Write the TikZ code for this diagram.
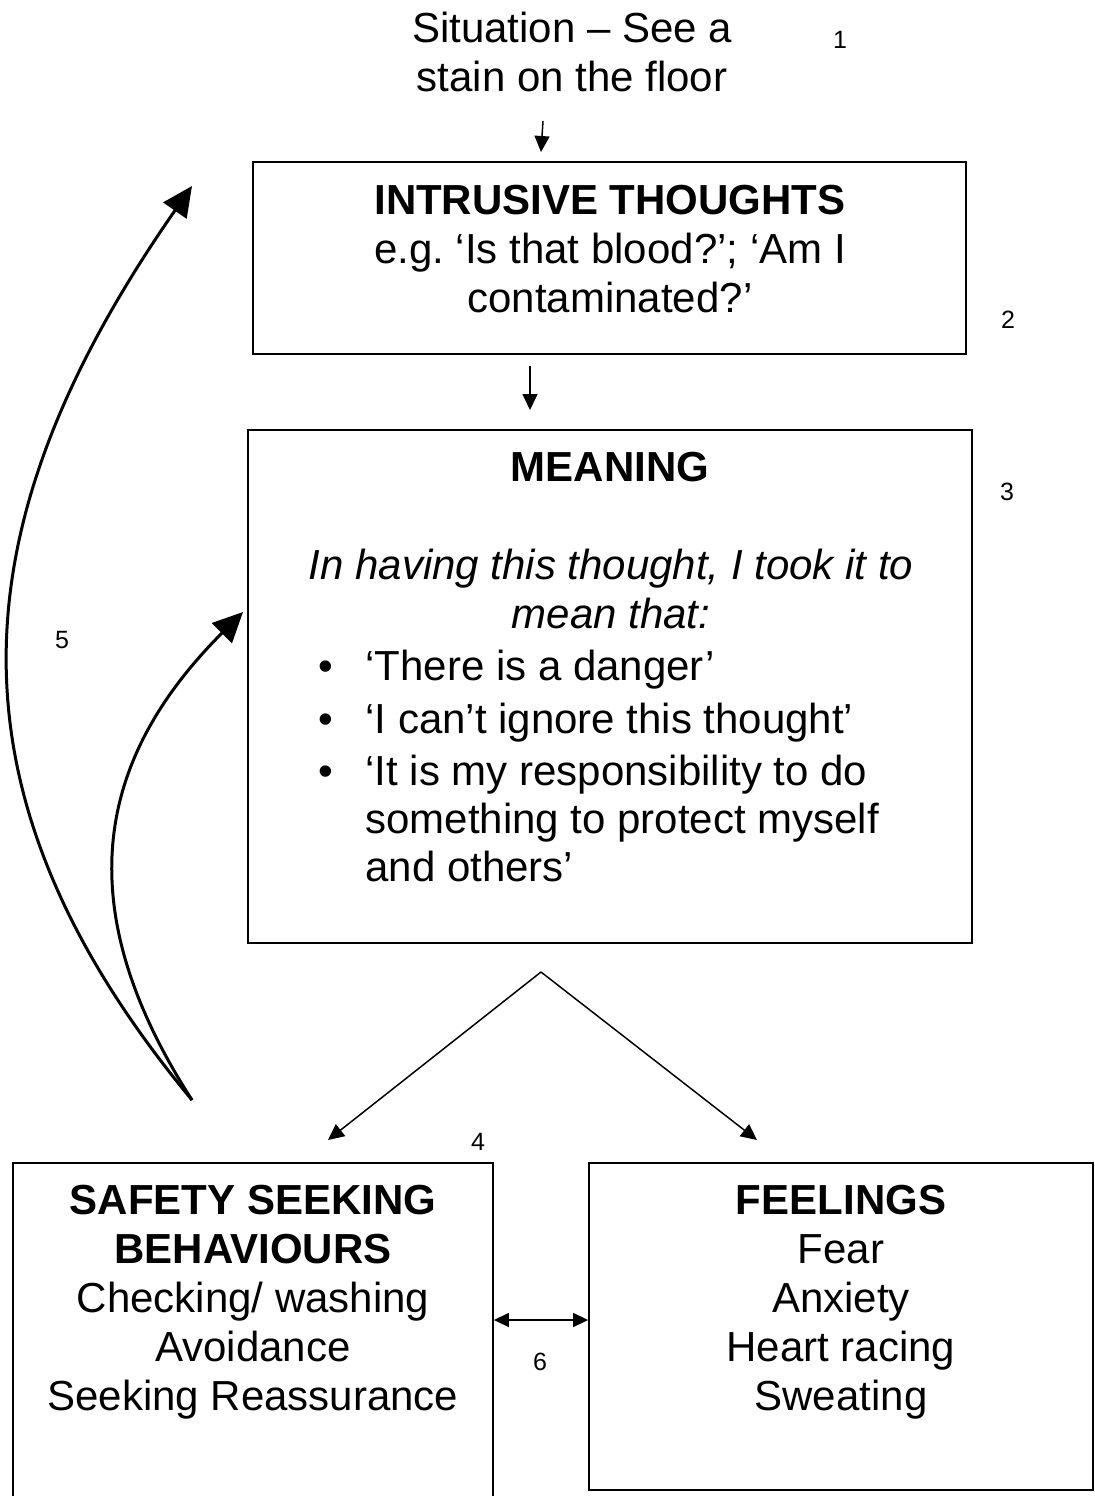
\documentclass[tikz,border=0pt]{standalone}
\usepackage{fontspec}
\setmainfont{Liberation Sans}
\usetikzlibrary{arrows.meta}

\begin{document}
\begin{tikzpicture}[x=0.5pt,y=-0.5pt,
  box/.style={draw,line width=0.9pt,inner sep=0pt},
  txt/.style={font=\fontsize{21}{24.5}\selectfont,align=center,inner sep=0pt},
  item/.style={font=\fontsize{21}{24.5}\selectfont,inner sep=0pt,anchor=base west},
  num/.style={font=\fontsize{12.5}{14}\selectfont,inner sep=0pt},
  arr/.style={-{Triangle[length=8pt,width=7.5pt]},line width=0.75pt},
  dbl/.style={{Triangle[length=7.5pt,width=7pt]}-{Triangle[length=7.5pt,width=7pt]},line width=0.75pt},
  loopar/.style={-{Triangle[length=15pt,width=14pt]},line width=1.5pt}]
\useasboundingbox (0,0) rectangle (1094,1496);
\clip (0,0) rectangle (1094,1496);

\node[txt] (sit) at (572,51.5) {Situation – See a\\stain on the floor};
\node[box,minimum width=356.5pt,minimum height=96pt] (intr) at (609.5,258) {};
\node[txt] (intrT) at (610,249) {\textbf{INTRUSIVE THOUGHTS}\\e.g.\ ‘Is that blood?’; ‘Am I\\contaminated?’};
\node[box,minimum width=362pt,minimum height=256.5pt] (mean) at (610,686.5) {};
\node[txt] (meanH) at (610,467) {\textbf{MEANING}};
\node[txt] (meanT) at (611,588.5) {\itshape In having this thought, I took it to\\\itshape mean that:};
\node[item] (b1) at (365,680) {\llap{\textbullet\hspace{16pt}}‘There is a danger’};
\node[item] (b2) at (365,733) {\llap{\textbullet\hspace{16pt}}‘I can’t ignore this thought’};
\node[item] (b3) at (365,785) {\llap{\textbullet\hspace{16pt}}‘It is my responsibility to do};
\node[item] (b3b) at (365,833) {something to protect myself};
\node[item] (b3c) at (365,881) {and others’};
\node[box,minimum width=240pt,minimum height=178.5pt] (safe) at (253,1341.5) {};
\node[txt] (safeT) at (253,1302.5) {\textbf{SAFETY SEEKING}\\\textbf{BEHAVIOURS}\\Checking/ washing\\Avoidance\\Seeking Reassurance};
\node[box,minimum width=252pt,minimum height=163.5pt] (feel) at (841,1326.5) {};
\node[txt] (feelT) at (841,1302.5) {\textbf{FEELINGS}\\Fear\\Anxiety\\Heart racing\\Sweating};

\node[num] (n1) at (840,40) {1};
\node[num] (n2) at (1008,320) {2};
\node[num] (n3) at (1007,492) {3};
\node[num] (n4) at (478,1142) {4};
\node[num] (n5) at (62,640) {5};
\node[num] (n6) at (540,1362) {6};

\coordinate (s1) at (543,121);
\coordinate (s2) at (541,152);
\coordinate (m1) at (530,366);
\coordinate (m2) at (530,410);
\coordinate (fork) at (541,972);
\coordinate (safeIn) at (328,1140);
\coordinate (feelIn) at (757,1140);
\coordinate (loop) at (192,1100);
\coordinate (intrIn) at (192,186);
\coordinate (meanIn) at (243,612);
\coordinate (six) at (541,1320);

\path[arr]
  (s1) edge (s2)
  (m1) edge (m2)
  (fork) edge (safeIn)
  (fork) edge (feelIn)
;
\draw[dbl] (safe.east |- six) -- (feel.west |- six);
\draw[loopar] (loop) .. controls (-67,788) and (-39,518) .. (intrIn);
\draw[loopar] (loop) .. controls (73,915) and (89,766) .. (meanIn);
\end{tikzpicture}
\end{document}
